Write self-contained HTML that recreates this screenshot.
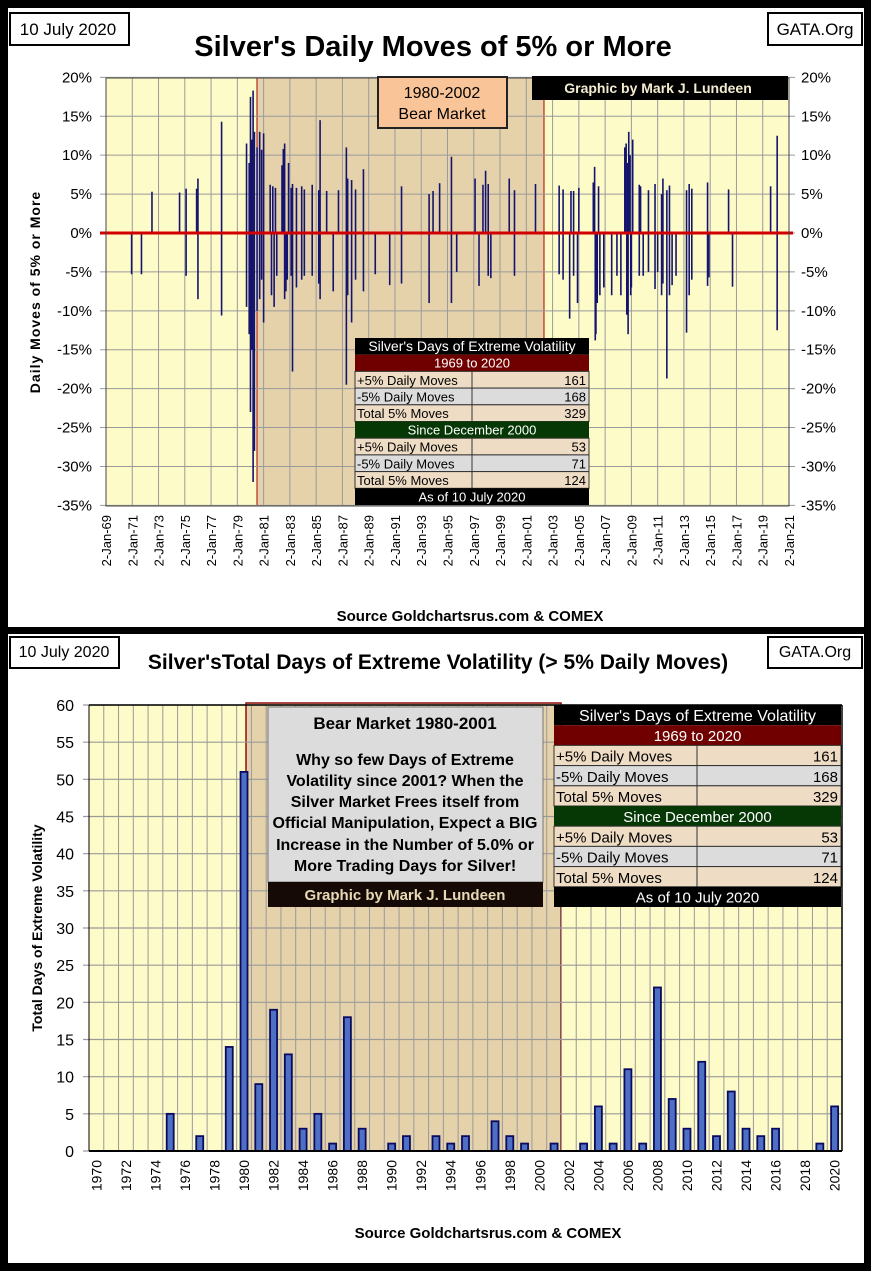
<!DOCTYPE html>
<html><head><meta charset="utf-8">
<style>
html,body{margin:0;padding:0;background:#000;}
svg{display:block;}
text{font-family:"Liberation Sans Narrow","Liberation Sans",sans-serif;}
</style></head>
<body>
<svg id="root" width="871" height="1271" viewBox="0 0 871 1271" xmlns="http://www.w3.org/2000/svg">
<rect x="0" y="0" width="871" height="1271" fill="#000"/>
<!-- top panel -->
<rect x="8" y="8" width="856" height="619" fill="#fff"/>
<rect x="8" y="634" width="856" height="629" fill="#fff"/>

<g id="top">
  <rect x="10" y="13" width="119" height="32" fill="#fff" stroke="#000" stroke-width="2"/>
  <text x="68" y="35" font-size="17" text-anchor="middle">10 July 2020</text>
  <rect x="768" y="13" width="94" height="32" fill="#fff" stroke="#000" stroke-width="2"/>
  <text x="815" y="35" font-size="17" text-anchor="middle">GATA.Org</text>
  <text x="433" y="56" font-size="29" font-weight="bold" text-anchor="middle">Silver's Daily Moves of 5% or More</text>
  <rect x="106" y="78" width="683" height="428" fill="#fdfbc8"/>
  <rect x="257" y="78" width="287" height="428" fill="#e5d2ab" stroke="#a00" stroke-width="1"/>
  <g id="topGrid"></g>
  <g id="topBars"></g>
  <line x1="100" y1="233" x2="793" y2="233" stroke="#d10000" stroke-width="3"/>
  <rect x="106" y="78" width="683" height="428" fill="none" stroke="#444" stroke-width="1"/>
  <g id="topTicks"></g>
  <text transform="translate(40,292) rotate(-90)" font-size="14" font-weight="bold" font-family="Liberation Sans, sans-serif" text-anchor="middle" letter-spacing="1">Daily Moves of 5% or More</text>
  <text x="470" y="621" font-size="15" font-weight="bold" text-anchor="middle">Source Goldchartsrus.com &amp; COMEX</text>
  <rect x="378" y="77" width="129" height="51" fill="#f9c497" stroke="#222" stroke-width="2"/>
  <text x="442" y="98" font-size="16" text-anchor="middle">1980-2002</text>
  <text x="442" y="119" font-size="16" text-anchor="middle">Bear Market</text>
  <rect x="532" y="76" width="256" height="24" fill="#000"/>
  <text x="658" y="93" font-size="14" font-weight="bold" fill="#f3ecd0" text-anchor="middle" font-family="Liberation Serif, serif">Graphic by Mark J. Lundeen</text>
  <g id="topTable"></g>
</g>

<g id="bottom">
  <rect x="10" y="637" width="109" height="31" fill="#fff" stroke="#000" stroke-width="2"/>
  <text x="64" y="657" font-size="16" text-anchor="middle">10 July 2020</text>
  <rect x="768" y="637" width="94" height="31" fill="#fff" stroke="#000" stroke-width="2"/>
  <text x="815" y="657" font-size="16" text-anchor="middle">GATA.Org</text>
  <text x="438" y="669" font-size="21" font-weight="bold" text-anchor="middle">Silver'sTotal Days of Extreme Volatility (&gt; 5% Daily Moves)</text>
  <rect x="89" y="705" width="753" height="446" fill="#fdfbc8"/>
  <rect x="246" y="703" width="315" height="448" fill="#e5d2ab" stroke="#8b1010" stroke-width="1.5"/>
  <g id="botGrid"></g>
  <g id="botBars"></g>
  <line x1="89" y1="1151" x2="842" y2="1151" stroke="#000" stroke-width="2"/>
  <line x1="89" y1="705" x2="89" y2="1151" stroke="#000" stroke-width="1"/>
  <line x1="89" y1="705" x2="842" y2="705" stroke="#000" stroke-width="1.5"/>
  <line x1="842" y1="705" x2="842" y2="1151" stroke="#000" stroke-width="1.5"/>
  <g id="botTicks"></g>
  <text transform="translate(42,928) rotate(-90)" font-size="14" font-weight="bold" font-family="Liberation Sans, sans-serif" text-anchor="middle">Total Days of Extreme Volatility</text>
  <text x="488" y="1238" font-size="15" font-weight="bold" text-anchor="middle">Source Goldchartsrus.com &amp; COMEX</text>
  <rect x="268" y="707" width="275" height="175" fill="#dcdcdc" stroke="#777" stroke-width="1"/>
  <text x="405" y="729" font-size="17" font-weight="bold" text-anchor="middle">Bear Market 1980-2001</text>
  <text x="405" y="765" font-size="16" font-weight="bold" text-anchor="middle">Why so few Days of Extreme</text>
  <text x="405" y="786" font-size="16" font-weight="bold" text-anchor="middle">Volatility since 2001?  When the</text>
  <text x="405" y="807" font-size="16" font-weight="bold" text-anchor="middle">Silver Market Frees itself from</text>
  <text x="405" y="828" font-size="16" font-weight="bold" text-anchor="middle">Official Manipulation, Expect a BIG</text>
  <text x="405" y="850" font-size="16" font-weight="bold" text-anchor="middle">Increase in the Number of 5.0% or</text>
  <text x="405" y="871" font-size="16" font-weight="bold" text-anchor="middle">More Trading Days for Silver!</text>
  <rect x="268" y="882" width="275" height="25" fill="#150a05"/>
  <text x="405" y="900" font-size="15" font-weight="bold" fill="#e8d9b5" text-anchor="middle" font-family="Liberation Serif, serif">Graphic by Mark J. Lundeen</text>
  <g id="botTable"></g>
</g>
</svg>
<script>
// ---------- top chart data ----------
const moveYears = [1970.95,1971.7,1972.5,1974.6,1975.1,1975.1,1975.9,1976.0,1976.0,1977.8,1977.8,
1979.7,1979.7,1979.9,1979.9,1980.0,1980.0,1980.1,1980.1,1980.2,1980.2,1980.3,1980.3,1980.5,1980.5,
1980.7,1980.7,1980.85,1980.85,1981.0,1981.0,1981.5,1981.6,1981.7,1981.8,1981.9,1982.0,
1982.4,1982.5,1982.6,1982.6,1982.7,1982.8,1982.9,1983.1,1983.1,1983.2,1983.2,1983.5,1983.5,1983.9,1983.9,
1984.1,1984.1,1984.7,1984.7,1985.2,1985.2,1985.3,1985.3,1985.8,1986.3,1986.7,1987.3,1987.3,1987.4,1987.4,
1987.7,1987.7,1988.0,1988.0,1988.6,1988.6,1989.5,1990.6,1991.5,1991.5,1993.6,1993.6,1993.9,1994.4,
1995.3,1995.3,1995.7,1997.1,1997.4,1997.7,1997.9,1998.1,1998.1,1998.3,1999.7,2000.1,2000.1,2001.7,
2003.5,2003.5,2003.8,2003.8,2004.3,2004.4,2004.6,2004.6,2004.9,2005.0,
2006.1,2006.2,2006.25,2006.3,2006.4,2006.5,2006.6,2006.9,2007.5,2007.9,2008.2,
2008.5,2008.6,2008.7,2008.8,2008.9,2008.65,2008.75,2008.95,2009.0,2009.1,
2009.6,2009.6,2009.7,2009.9,2010.3,2010.3,2010.8,2010.8,2011.0,2011.3,2011.3,2011.4,2011.4,2011.7,2011.7,
2011.9,2011.9,2012.1,2012.4,2013.2,2013.2,2013.4,2013.4,2013.6,2013.6,2014.8,2014.8,2014.9,2016.4,2016.7,
2019.6,2020.1,2020.1];
const moveValues = [-5.3,-5.3,5.3,5.2,5.7,-5.5,5.7,7.0,-8.5,14.3,-10.6,
11.5,-9.5,9.0,-13,17.5,-23,12,-15,18.3,-32,13,-28,11,-10,
13,-8.5,10.7,-6,12.8,-11.5,6.2,-8,6,-9.5,5.8,-5.5,
8.7,10.8,11.5,-8.5,-7.5,-6,9,5.8,-5.5,6.3,-17.8,5.8,-7,6,-6,
5.6,-5.5,6.2,-5.5,5.5,-6.5,14.5,-8.5,5.4,-7.5,5.5,11,-19.5,7,-8,
6.8,-11.5,5.6,-6,8.2,-7.5,-5.3,-6.7,6,-6.5,5,-9,5.4,6.4,
9.8,-9,-5,7,-6.8,6.2,8,6.3,-5.5,-5.8,7,5.5,-5.5,6.3,
6.1,-5.3,5.6,-6,-11,5.4,5.4,-5.5,-9,5.8,
6.5,8.5,-13.8,-13,-9,6,-8,-7,-8,-5.5,-8,
11,11.5,9,13,10,-10.5,-13,-8,-7,12,
6.2,-5.5,6,-5.5,5.5,-5,6.3,-7.2,-5,5,-8,7,-6.5,-18.7,5.5,
6.1,-8,-6.7,-5.5,-12.8,5.5,6.3,-8,5.7,-6,6.5,-6.8,-5.7,5.6,-6.9,
6,12.5,-12.5];
const topYTicks = [20,15,10,5,0,-5,-10,-15,-20,-25,-30,-35];
const topXLabels = ["2-Jan-69","2-Jan-71","2-Jan-73","2-Jan-75","2-Jan-77","2-Jan-79","2-Jan-81","2-Jan-83","2-Jan-85","2-Jan-87","2-Jan-89","2-Jan-91","2-Jan-93","2-Jan-95","2-Jan-97","2-Jan-99","2-Jan-01","2-Jan-03","2-Jan-05","2-Jan-07","2-Jan-09","2-Jan-11","2-Jan-13","2-Jan-15","2-Jan-17","2-Jan-19","2-Jan-21"];
const topXTickYears = [1969,1971,1973,1975,1977,1979,1981,1983,1985,1987,1989,1991,1993,1995,1997,1999,2001,2003,2005,2007,2009,2011,2013,2015,2017,2019,2021];

// ---------- bottom chart data ----------
const yearCats = [];
for (let y = 1970; y <= 2020; y++) yearCats.push(y);
const dayCounts = [0,0,0,0,0,5,0,2,0,14,51,9,19,13,3,5,1,18,3,0,1,2,0,2,1,2,0,4,2,1,0,1,0,1,6,1,11,1,22,7,3,12,2,8,3,2,3,0,0,1,6];
const botYTicks = [0,5,10,15,20,25,30,35,40,45,50,55,60];

// tables
const tableHeader = "Silver's Days of Extreme Volatility";
const tableRange1 = "1969 to 2020";
const tableRange2 = "Since December 2000";
const tableLabels = ["+5% Daily Moves","-5% Daily Moves","Total 5% Moves"];
const tableValues1 = [161,168,329];
const tableValues2 = [53,71,124];
const tableFooter = "As of 10 July 2020";

const NS = "http://www.w3.org/2000/svg";
function mk(tag, attrs, parent){ const e=document.createElementNS(NS,tag); for(const k in attrs) e.setAttribute(k,attrs[k]); parent.appendChild(e); return e; }

// top axes
const tX = y => 106 + (y-1969)*(683/52);
const tY = v => 233 - v*(428/55);
const tg = document.getElementById('topGrid');
topXTickYears.forEach(yr => {
  const l = mk('line',{x1:tX(yr),y1:78,x2:tX(yr),y2:506,stroke:'#9a9a9a','stroke-width':1},tg);
  
  
});
topYTicks.forEach(v => {
  const l = mk('line',{x1:100,y1:tY(v),x2:795,y2:tY(v),stroke:'#9a9a9a','stroke-width':1},tg);
  
  
});
const tb = document.getElementById('topBars');
moveYears.forEach((yr,i) => {
  const l = mk('line',{x1:tX(yr),y1:tY(0),x2:tX(yr),y2:tY(moveValues[i]),stroke:'#14146e','stroke-width':1.6},tb);
  
  
});
const tt = document.getElementById('topTicks');
topYTicks.forEach(v => {
  const a = mk('text',{x:92,y:tY(v)+5,'font-size':15,'text-anchor':'end'},tt);
  a.textContent = v + '%';
  
  
  const b = mk('text',{x:801,y:tY(v)+5,'font-size':15,'text-anchor':'start'},tt);
  b.textContent = v + '%';
  
  
});
topXLabels.forEach((lab,i) => {
  const x = tX(topXTickYears[i]);
  const t = mk('text',{transform:`translate(${x+5},515) rotate(-90)`,'font-size':13,'text-anchor':'end','font-family':'Liberation Sans, sans-serif'},tt);
  t.textContent = lab;
  
  
});

// bottom axes
const bw = 753/yearCats.length;
const bX = i => 89 + bw*(i+0.5);
const bY = v => 1151 - v*(446/60);
const bg = document.getElementById('botGrid');
for (let i=1;i<yearCats.length;i++){
  const l = mk('line',{x1:89+bw*i,y1:705,x2:89+bw*i,y2:1151,stroke:'#9a9a9a','stroke-width':1},bg);
  
  
}
botYTicks.forEach(v => {
  const l = mk('line',{x1:83,y1:bY(v),x2:842,y2:bY(v),stroke:'#9a9a9a','stroke-width':1.2},bg);
  
  
});
const bb = document.getElementById('botBars');
dayCounts.forEach((c,i) => {
  if (c<=0) return;
  const r = mk('rect',{x:bX(i)-3.5,y:bY(c),width:7,height:bY(0)-bY(c),fill:'#4d6fc4',stroke:'#0a0a60','stroke-width':1.8},bb);
  
  
});
const bt = document.getElementById('botTicks');
botYTicks.forEach(v => {
  const t = mk('text',{x:74,y:bY(v)+6,'font-size':16,'text-anchor':'end'},bt);
  t.textContent = v;
  
  
});
yearCats.forEach((yr,i) => {
  if (yr%2) return;
  const t = mk('text',{transform:`translate(${bX(i)+5},1160) rotate(-90)`,'font-size':14,'text-anchor':'end','font-family':'Liberation Sans, sans-serif'},bt);
  t.textContent = yr;
  
  
});

// tables
function buildTable(g, x, y, w, rh, split, fs){
  const rows = [['h',tableHeader,'#000','#fff'],['h',tableRange1,'#700000','#fff']];
  tableLabels.forEach((l,i)=>rows.push(['r',l,tableValues1[i],i]));
  rows.push(['h',tableRange2,'#063806','#fff']);
  tableLabels.forEach((l,i)=>rows.push(['r',l,tableValues2[i],i]));
  rows.push(['h',tableFooter,'#000','#fff']);
  rows.forEach((r,k)=>{
    const yy = y + k*rh;
    if (r[0]==='h'){
      const b = mk('rect',{x:x,y:yy,width:w,height:rh,fill:r[2]},g);
      
      
      const t = mk('text',{x:x+w/2,y:yy+rh*0.78,'font-size':fs+ (k===0?1:0),fill:r[3],'text-anchor':'middle','font-family':'Liberation Sans, sans-serif'},g);
      t.textContent = r[1];
      
      
    } else {
      const fill = r[3]===1 ? '#dcdcdc' : '#efdcc4';
      const b = mk('rect',{x:x,y:yy,width:w,height:rh,fill:fill,stroke:'#333','stroke-width':1},g);
      
      
      const d = mk('line',{x1:split,y1:yy,x2:split,y2:yy+rh,stroke:'#333','stroke-width':1},g);
      
      
      const t = mk('text',{x:x+2,y:yy+rh*0.8,'font-size':fs,'font-family':'Liberation Sans, sans-serif'},g);
      t.textContent = r[1];
      
      
      const v = mk('text',{x:x+w-3,y:yy+rh*0.8,'font-size':fs,'text-anchor':'end','font-family':'Liberation Sans, sans-serif'},g);
      v.textContent = r[2];
      
      
    }
  });
}
buildTable(document.getElementById('topTable'), 355, 338, 234, 16.7, 472, 13);
buildTable(document.getElementById('botTable'), 554, 705, 287, 20.2, 697, 15);
</script>
</body></html>
